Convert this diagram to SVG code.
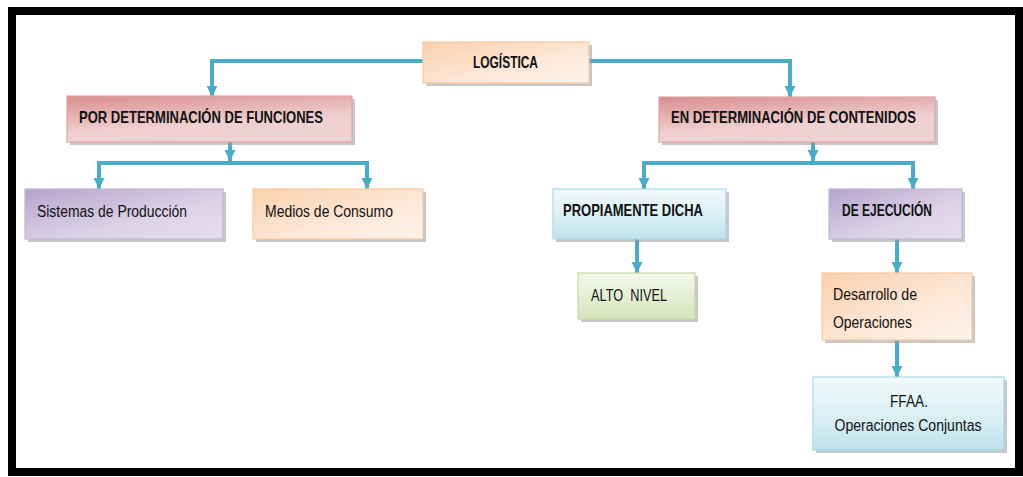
<svg xmlns="http://www.w3.org/2000/svg" width="1023" height="477" viewBox="0 0 1023 477">
<style>
.t{font-family:"Liberation Sans",Arial,sans-serif;fill:#111;white-space:pre}
.b{font-weight:bold;font-size:16.5px}
.n{font-size:16px}
.sh{fill:#9a9a9a;opacity:0.55}
.con{fill:none;stroke:#4bacc6;stroke-width:4}
</style>
<defs>
<marker id="ar" markerUnits="userSpaceOnUse" markerWidth="12" markerHeight="12" refX="11" refY="6" orient="auto">
<path d="M0,0.5 L11,6 L0,11.5 z" fill="#4bacc6"/>
</marker>
<linearGradient id="gPeach" x1="0" y1="0" x2="1" y2="1"><stop offset="0" stop-color="#fbd0ad"/><stop offset="0.6" stop-color="#fde8d8"/><stop offset="1" stop-color="#fef4ec"/></linearGradient>
<linearGradient id="gRed" x1="0" y1="0" x2="0.4" y2="1"><stop offset="0" stop-color="#d98e8f"/><stop offset="0.7" stop-color="#efd0d0"/><stop offset="1" stop-color="#edd2d1"/></linearGradient>
<linearGradient id="gPurple" x1="0" y1="0" x2="1" y2="1"><stop offset="0" stop-color="#b5a4cc"/><stop offset="0.6" stop-color="#dcd2e7"/><stop offset="1" stop-color="#e4deee"/></linearGradient>
<linearGradient id="gBlue" x1="0" y1="0" x2="0" y2="1"><stop offset="0" stop-color="#f2fafc"/><stop offset="0.6" stop-color="#d8eef4"/><stop offset="1" stop-color="#bfe2ec"/></linearGradient>
<linearGradient id="gGreen" x1="0" y1="0" x2="0" y2="1"><stop offset="0" stop-color="#f4f8ec"/><stop offset="0.6" stop-color="#e3edd1"/><stop offset="1" stop-color="#d5e4ba"/></linearGradient>
</defs>
<rect x="0" y="0" width="1023" height="477" fill="#ffffff"/>
<rect x="12" y="11" width="1007" height="461" fill="none" stroke="#000" stroke-width="8"/>

<g id="connectors">
<path class="con" d="M423,61 H212 V97" marker-end="url(#ar)"/>
<path class="con" d="M589,61 H790 V97" marker-end="url(#ar)"/>
<path class="con" d="M230,142 V161" marker-end="url(#ar)"/>
<path class="con" d="M97,163 H369"/>
<path class="con" d="M99,163 V189" marker-end="url(#ar)"/>
<path class="con" d="M367,163 V189" marker-end="url(#ar)"/>
<path class="con" d="M813,142 V161" marker-end="url(#ar)"/>
<path class="con" d="M642,163 H915"/>
<path class="con" d="M644,163 V189" marker-end="url(#ar)"/>
<path class="con" d="M913,163 V189" marker-end="url(#ar)"/>
<path class="con" d="M637,239 V273" marker-end="url(#ar)"/>
<path class="con" d="M897,239 V273" marker-end="url(#ar)"/>
<path class="con" d="M897,340 V377" marker-end="url(#ar)"/>
</g>

<g id="n-logistica">
<rect class="sh" x="426" y="45" width="166" height="41"/>
<rect x="423" y="42" width="166" height="41" fill="url(#gPeach)" stroke="#f7c9a0" stroke-width="1.2"/>
<text class="t b" x="473" y="68" textLength="65" lengthAdjust="spacingAndGlyphs">LOGÍSTICA</text>
</g>

<g id="n-funciones">
<rect class="sh" x="70" y="99" width="285" height="46"/>
<rect x="67" y="96" width="285" height="46" fill="url(#gRed)" stroke="#e1a4a4" stroke-width="1.2"/>
<text class="t b" x="79" y="123" textLength="244" lengthAdjust="spacingAndGlyphs">POR DETERMINACIÓN DE FUNCIONES</text>
</g>

<g id="n-contenidos">
<rect class="sh" x="662" y="100" width="276" height="45"/>
<rect x="659" y="97" width="276" height="45" fill="url(#gRed)" stroke="#e1a4a4" stroke-width="1.2"/>
<text class="t b" x="671" y="123" textLength="245" lengthAdjust="spacingAndGlyphs">EN DETERMINACIÓN DE CONTENIDOS</text>
</g>

<g id="n-sistemas">
<rect class="sh" x="28" y="192" width="198" height="50"/>
<rect x="25" y="189" width="198" height="50" fill="url(#gPurple)" stroke="#c2b4d6" stroke-width="1.2"/>
<text class="t n" x="37" y="217" textLength="150" lengthAdjust="spacingAndGlyphs">Sistemas de Producción</text>
</g>

<g id="n-medios">
<rect class="sh" x="256" y="192" width="170" height="50"/>
<rect x="253" y="189" width="170" height="50" fill="url(#gPeach)" stroke="#f7c9a0" stroke-width="1.2"/>
<text class="t n" x="265" y="217" textLength="128" lengthAdjust="spacingAndGlyphs">Medios de Consumo</text>
</g>

<g id="n-propiamente">
<rect class="sh" x="556" y="192" width="173" height="50"/>
<rect x="553" y="189" width="173" height="50" fill="url(#gBlue)" stroke="#a9d8e6" stroke-width="1.2"/>
<text class="t b" x="563" y="216" textLength="140" lengthAdjust="spacingAndGlyphs">PROPIAMENTE DICHA</text>
</g>

<g id="n-ejecucion">
<rect class="sh" x="832" y="192" width="133" height="50"/>
<rect x="829" y="189" width="133" height="50" fill="url(#gPurple)" stroke="#c2b4d6" stroke-width="1.2"/>
<text class="t b" x="842" y="216" textLength="90" lengthAdjust="spacingAndGlyphs">DE EJECUCIÓN</text>
</g>

<g id="n-alto">
<rect class="sh" x="581" y="276" width="117" height="46"/>
<rect x="578" y="273" width="117" height="46" fill="url(#gGreen)" stroke="#c6dba0" stroke-width="1.2"/>
<text class="t n" x="591" y="301" textLength="76" lengthAdjust="spacingAndGlyphs">ALTO  NIVEL</text>
</g>

<g id="n-desarrollo">
<rect class="sh" x="825" y="276" width="150" height="67"/>
<rect x="822" y="273" width="150" height="67" fill="url(#gPeach)" stroke="#f7c9a0" stroke-width="1.2"/>
<text class="t n" x="833" y="300" textLength="84" lengthAdjust="spacingAndGlyphs">Desarrollo de</text>
<text class="t n" x="833" y="328" textLength="79" lengthAdjust="spacingAndGlyphs">Operaciones</text>
</g>

<g id="n-ffaa">
<rect class="sh" x="816" y="380" width="191" height="73"/>
<rect x="813" y="377" width="191" height="73" fill="url(#gBlue)" stroke="#a9d8e6" stroke-width="1.2"/>
<text class="t n" x="909" y="407" text-anchor="middle" textLength="38" lengthAdjust="spacingAndGlyphs">FFAA.</text>
<text class="t n" x="908" y="431" text-anchor="middle" textLength="147" lengthAdjust="spacingAndGlyphs">Operaciones Conjuntas</text>
</g>
</svg>
